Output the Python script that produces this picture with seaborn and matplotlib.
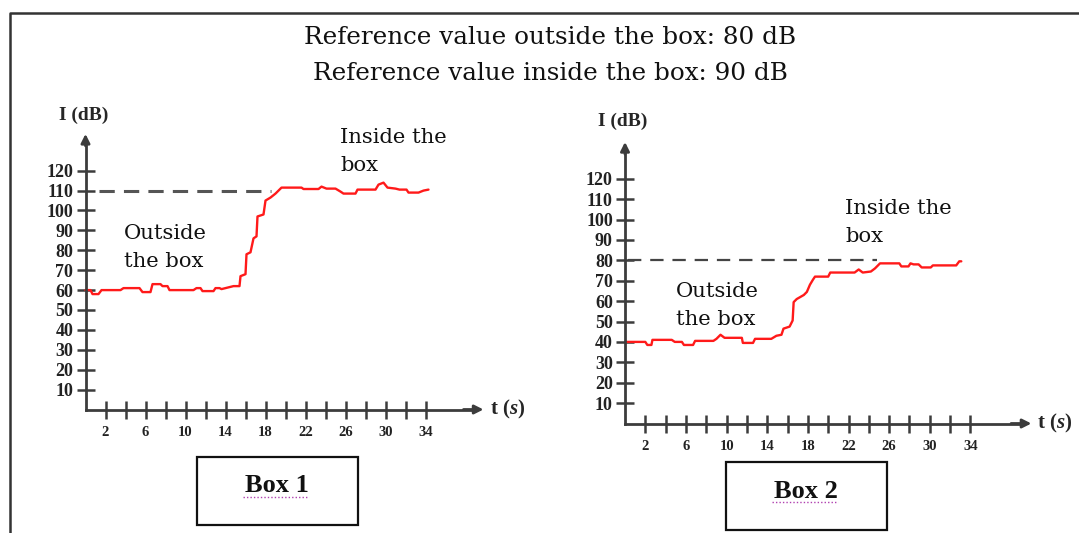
import matplotlib
matplotlib.use("Agg")
import matplotlib.pyplot as plt
import seaborn as sns
import pandas as pd
from matplotlib.lines import Line2D
from matplotlib.patches import Rectangle

# ---------------- data ----------------
title_lines = ["Reference value outside the box: 80 dB",
               "Reference value inside the box: 90 dB"]

box1_t = [0.0, 0.5, 0.7, 1.3, 1.6, 3.5, 3.8, 5.4, 5.7, 6.5, 6.7, 7.5, 7.7, 8.2, 8.4,
          10.8, 11.1, 11.5, 11.7, 12.8, 13.0, 13.4, 13.6, 14.0, 14.8, 15.4, 15.5, 16.0,
          16.1, 16.5, 16.8, 17.1, 17.2, 17.8, 18.0, 18.5, 19.0, 19.6, 21.6, 21.8, 23.3,
          23.6, 24.1, 25.0, 25.5, 25.8, 27.0, 27.2, 29.0, 29.3, 29.8, 30.2, 31.0, 31.4,
          32.1, 32.3, 33.3, 33.8, 34.3]
box1_db = [60, 60, 58, 58, 60, 60, 61, 61, 59, 59, 63, 63, 62, 62, 60,
           60, 61, 61, 59.5, 59.5, 61, 61, 60.5, 61, 62, 62, 67, 68,
           78, 79, 86, 87, 97, 98, 105, 106.5, 108.5, 111.5, 111.5, 110.8, 110.8,
           112, 111, 111, 109.5, 108.5, 108.5, 110.5, 110.5, 113, 114, 111.5, 111, 110.5,
           110.5, 109, 109, 110, 110.5]

box2_t = [0.1, 2.0, 2.2, 2.6, 2.7, 4.6, 4.9, 5.6, 5.8, 6.7, 6.9, 8.7, 9.0, 9.4, 9.8,
          11.5, 11.6, 12.6, 12.8, 14.4, 14.9, 15.4, 15.6, 16.2, 16.5, 16.6, 16.9, 17.6,
          17.9, 18.2, 18.5, 18.7, 20.0, 20.2, 22.6, 23.0, 23.4, 24.2, 24.6, 25.1, 27.0,
          27.2, 27.9, 28.1, 28.4, 28.9, 29.2, 30.1, 30.3, 32.6, 32.9, 33.1]
box2_db = [40, 40, 38.5, 38.5, 41, 41, 40, 40, 38.5, 38.5, 40.5, 40.5, 41.5, 43.5, 42,
           42, 39.5, 39.5, 41.5, 41.5, 43, 43.5, 46.5, 47.5, 50.5, 59.5, 61, 63,
           64.5, 68, 70.5, 72, 72, 74, 74, 75.5, 74, 74.5, 76, 78.5, 78.5,
           77, 77, 78.5, 78, 78, 76.5, 76.5, 77.5, 77.5, 79.5, 79.5]

box1_ref_t = [1.3, 18.5]
box1_ref_db = [110, 110]
box2_ref_t = [0.3, 24.8]
box2_ref_db = [80, 80]

y_ticks = [10, 20, 30, 40, 50, 60, 70, 80, 90, 100, 110, 120]
x_ticks = [2, 4, 6, 8, 10, 12, 14, 16, 18, 20, 22, 24, 26, 28, 30, 32, 34]
x_tick_labels = ["2", "", "6", "", "10", "", "14", "", "18", "", "22", "", "26", "", "30", "", "34"]

box_names = ["Box 1", "Box 2"]

# ---------------- style ----------------
sns.set_style("white")
plt.rcParams["font.family"] = ["DejaVu Serif", "DejaVu Sans"]
plt.rcParams["mathtext.fontset"] = "custom"
plt.rcParams["mathtext.rm"] = "Liberation Serif:bold"
plt.rcParams["mathtext.it"] = "Liberation Serif:bold:italic"

W, H = 1079, 533
fig = plt.figure(figsize=(W / 100, H / 100), dpi=100)
fig.patch.set_facecolor("white")

AX_C = "#3c3c3c"
RED = "#ff1a1a"
SERIF_B = dict(family="Liberation Serif", weight="bold")


def make_axes(x_zero_px, y_zero_px, px_per_s, px_per_db):
    xmin, xmax = -5, 42
    ymin, ymax = -5, 145
    left = x_zero_px + xmin * px_per_s
    width = (xmax - xmin) * px_per_s
    bottom_px = y_zero_px - ymin * px_per_db
    height = (ymax - ymin) * px_per_db
    ax = fig.add_axes([left / W, (H - bottom_px) / H, width / W, height / H])
    ax.set_xlim(xmin, xmax)
    ax.set_ylim(ymin, ymax)
    ax.patch.set_alpha(0)
    return ax


def style_axes(ax, xarrow, yarrow):
    for s in ["top", "right"]:
        ax.spines[s].set_visible(False)
    ax.spines["left"].set_position(("data", 0))
    ax.spines["bottom"].set_position(("data", 0))
    ax.spines["left"].set_bounds(0, yarrow - 4)
    ax.spines["bottom"].set_bounds(0, xarrow - 1)
    for s in ["left", "bottom"]:
        ax.spines[s].set_color(AX_C)
        ax.spines[s].set_linewidth(2.0)
    ax.set_yticks(y_ticks)
    ax.set_yticklabels([str(v) for v in y_ticks])
    ax.set_xticks(x_ticks)
    ax.set_xticklabels(x_tick_labels)
    ax.tick_params(axis="y", left=True, right=False, direction="inout", length=13.5,
                   width=1.8, color=AX_C, pad=2, labelsize=13, labelcolor="#222222")
    ax.tick_params(axis="x", bottom=True, top=False, direction="inout", length=13.5,
                   width=1.8, color=AX_C, pad=5, labelsize=10.5, labelcolor="#222222")
    for lab in ax.get_yticklabels() + ax.get_xticklabels():
        lab.set_fontfamily("Liberation Serif")
        lab.set_fontweight("bold")
    ax.set_xlabel("")
    ax.set_ylabel("")
    # arrow heads
    ax.annotate("", xy=(0, yarrow), xytext=(0, yarrow - 6),
                arrowprops=dict(arrowstyle="-|>", color=AX_C, lw=2.0, mutation_scale=13,
                                shrinkA=0, shrinkB=0), annotation_clip=False)
    ax.annotate("", xy=(xarrow, 0), xytext=(xarrow - 2, 0),
                arrowprops=dict(arrowstyle="-|>", color=AX_C, lw=2.0, mutation_scale=13,
                                shrinkA=0, shrinkB=0), annotation_clip=False)


LBL = dict(ha="left", va="center", fontsize=15.2, linespacing=1.6, color="#111111")

# ---------------- left chart (Box 1) ----------------
ax1 = make_axes(85.5, 409.5, 10.0, 1.99)
df1 = pd.DataFrame({"t": box1_t, "I": box1_db})
sns.lineplot(data=df1, x="t", y="I", ax=ax1, sort=False, estimator=None,
             color=RED, lw=1.7)
sns.lineplot(x=box1_ref_t, y=box1_ref_db, ax=ax1, sort=False, estimator=None,
             color="#555555", lw=2.2, dashes=False, linestyle=(0, (5, 3)))
style_axes(ax1, 39.8, 138.5)
ax1.text(-0.2, 148, "I (dB)", ha="center", va="center", fontsize=14, **SERIF_B)
ax1.text(40.5, 0, r"$\mathrm{t\ (}s\mathrm{)}$", ha="left", va="center", fontsize=15)
ax1.text(3.8, 81.4, "Outside\nthe box", **LBL)
ax1.text(25.5, 129.4, "Inside the\nbox", **LBL)

# ---------------- right chart (Box 2) ----------------
ax2 = make_axes(625.0, 423.5, 10.16, 2.04)
df2 = pd.DataFrame({"t": box2_t, "I": box2_db})
sns.lineplot(data=df2, x="t", y="I", ax=ax2, sort=False, estimator=None,
             color=RED, lw=1.7)
sns.lineplot(x=box2_ref_t, y=box2_ref_db, ax=ax2, sort=False, estimator=None,
             color="#444444", lw=1.6, dashes=False, linestyle=(0, (6, 4)))
style_axes(ax2, 40.0, 138.0)
ax2.text(-0.2, 148, "I (dB)", ha="center", va="center", fontsize=14, **SERIF_B)
ax2.text(40.6, 0, r"$\mathrm{t\ (}s\mathrm{)}$", ha="left", va="center", fontsize=15)
ax2.text(5.0, 57.8, "Outside\nthe box", **LBL)
ax2.text(21.7, 98.3, "Inside the\nbox", **LBL)

# ---------------- figure level decorations ----------------
fig.text(550 / W, 1 - 38 / H, title_lines[0], ha="center", va="center", fontsize=17.7,
         color="#111111")
fig.text(550 / W, 1 - 73 / H, title_lines[1], ha="center", va="center", fontsize=17.7,
         color="#111111")

# outer frame (open to the right and bottom)
fig.add_artist(Line2D([9.5 / W, 9.5 / W, 1.0], [0.0, 1 - 13 / H, 1 - 13 / H],
                      transform=fig.transFigure, color="#333333", lw=1.8))

# caption boxes
boxes = [(197, 457, 358, 525, 277, 486), (726, 462, 887, 530, 806, 491)]
for name, (x0, y0, x1, y1, cx, cy) in zip(box_names, boxes):
    fig.add_artist(Rectangle((x0 / W, 1 - y1 / H), (x1 - x0) / W, (y1 - y0) / H,
                             transform=fig.transFigure, fill=False,
                             edgecolor="#111111", lw=1.6))
    fig.text(cx / W, 1 - cy / H, name, ha="center", va="center", fontsize=19,
             color="#111111", **SERIF_B)
    fig.add_artist(Line2D([(cx - 34) / W, (cx + 32) / W], [1 - (cy + 11) / H] * 2,
                          transform=fig.transFigure, color="#b040b0", lw=1.0,
                          linestyle=(0, (1, 1.5))))

fig.savefig("out.png", dpi=100, facecolor="white")
